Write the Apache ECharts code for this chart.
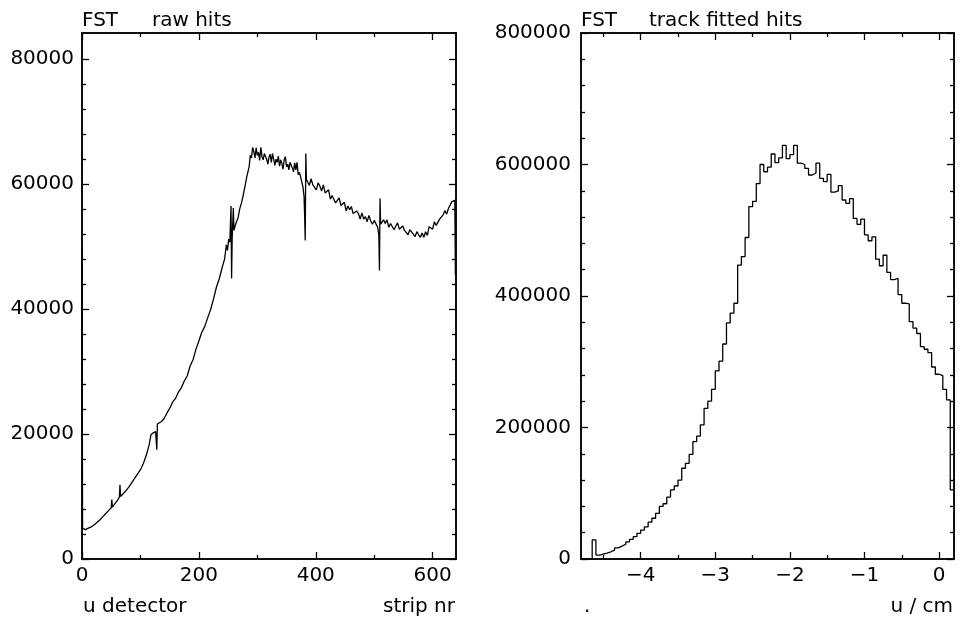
<!DOCTYPE html>
<html>
<head>
<meta charset="utf-8">
<script src="https://cdn.jsdelivr.net/npm/echarts@6/dist/echarts.min.js"></script>
<style>
html,body{margin:0;padding:0;background:#fff}
#main{width:959px;height:621px}
</style>
</head>
<body>
<div id="main"></div>
<script>
// FST raw hits per strip (u detector)
var rawStrips = [0,1,3,6,10,15,20,25,30,35,40,45,50,51,52,55,60,64,65,66,70,75,80,85,90,95,100,105,110,115,118,122,126,127,128,129,132,136,140,145,150,155,160,165,170,175,180,185,190,195,200,205,210,215,220,225,230,235,240,244,247,249,251,253,255,256,257,259,260,262,264,267,270,273,276,279,282,284,
  286,288,290,292,294,296,298,300,302,304,306,308,310,312,314,316,318,320,322,324,326,328,330,332,334,336,338,340,342,344,346,348,350,352,354,356,358,360,362,364,366,368,370,372,374,376,378,380,381,382,383,384,
  386,389,392,395,398,401,404,407,410,413,416,419,422,425,428,431,434,437,440,443,446,449,452,455,458,461,464,467,470,473,476,479,482,485,488,491,494,497,500,503,506,508,509,510,511,
  513,516,519,522,525,528,531,534,537,540,543,546,549,552,555,558,561,564,567,570,573,576,579,582,585,588,591,594,597,600,603,606,609,612,615,618,621,624,627,630,633,636,638,639];
var rawHits = [49500,4900,4700,4700,4900,5100,5400,5800,6200,6700,7200,7700,8200,9500,8300,8700,9300,9900,11900,10000,10400,10900,11500,12200,12900,13600,14300,15300,16600,18300,19900,20200,20400,20300,17500,21600,21900,22000,22400,23300,24100,25100,25700,26700,27400,28500,29300,30900,31900,33600,34900,36300,37200,38600,39900,41600,43500,44900,46700,48000,50300,49400,51200,50700,56500,44900,51400,56200,52600,53300,53900,54600,56100,57000,58300,59700,61200,62000,
  62800,64600,64200,65900,65200,64200,65800,64600,65100,63800,65900,64400,63900,64900,65100,64000,63200,64300,64800,63500,64900,64000,63000,64000,63500,64500,62900,63900,63300,62400,63900,64400,62800,63200,62300,63500,63200,62600,62000,63400,62300,63500,61500,61900,61200,61400,59600,58000,55000,51000,64900,60800,
  60700,59800,60900,59900,60100,59100,60200,59700,58900,59900,58600,58600,59100,57600,58200,58200,57000,57100,57800,56600,56900,57100,55700,56500,55900,56400,55300,55300,55700,55300,54400,55400,54400,54800,54000,55000,54100,53600,54200,54300,53100,51800,46200,57700,53600,
  53600,54300,53700,54300,53100,53700,53800,52700,53300,53800,52800,52500,53300,52600,52900,51900,52700,53000,52000,51600,52400,51900,51500,52200,51500,52400,51800,53200,53100,52800,54000,53400,53200,54400,54200,55100,55800,55200,56100,56000,57200,56900,57400,45500];

// FST track fitted hits, bins of 0.05 cm from -4.8 cm
var trackBinStart = -4.8;
var trackBinWidth = 0.05;
var trackHits = [0,0,0,29000,6000,7600,9000,11000,13500,17000,19500,22500,26000,30000,34000,39000,44000,49000,56000,62000,
  69500,80000,84000,94000,105000,111000,120000,138000,145500,159000,178500,187000,204000,229000,240000,258000,286000,301000,327000,359000,
  374000,389000,447000,460000,489000,536000,544000,571000,600000,589000,596000,616000,603000,610000,629000,609000,615000,629000,602000,600000,
  594000,584000,587000,602000,579000,574000,585000,558000,560000,568000,546000,541000,548000,518000,509000,517000,493000,484000,490000,456000,
  446000,462000,436000,425000,427000,402000,389000,388000,361000,351000,343000,323000,319000,314000,292000,281000,279000,258000,242000,105000];

var rawXLabels = [0,200,400,600];
var rawXMinor = [100,300,500];
var rawYLabels = [0,20000,40000,60000,80000];
var rawYMinor = [4000,8000,12000,16000,24000,28000,32000,36000,44000,48000,52000,56000,64000,68000,72000,76000];
var trackXLabels = [-4,-3,-2,-1,0];
var trackXMinor = [-4.5,-3.5,-2.5,-1.5,-0.5];
var trackYLabels = [0,200000,400000,600000,800000];
var trackYMinor = [40000,80000,120000,160000,240000,280000,320000,360000,440000,480000,520000,560000,640000,680000,720000,760000];

var FONT = 'DejaVu Sans';

function plainLabel(v) {
  return v < 0 ? '\u2212' + String(-v) : String(v);
}

function frameAxis(grid, pos, min, max, ticks, len, labels, margin) {
  return {
    type: 'value', gridIndex: grid, position: pos, min: min, max: max,
    axisLine: {show: true, onZero: false, lineStyle: {color: '#000', width: 1.5}},
    axisTick: {show: true, inside: true, length: len, customValues: ticks, lineStyle: {color: '#000', width: 1.3}},
    axisLabel: labels ? {show: true, customValues: labels, formatter: plainLabel, color: '#000', fontFamily: FONT, fontSize: 20, margin: margin} : {show: false},
    splitLine: {show: false}
  };
}

var rawData = rawStrips.map(function (s, i) { return [s, rawHits[i]]; });
var trackData = trackHits.map(function (v, i) { return [trackBinStart + i * trackBinWidth, v]; });
trackData.push([trackBinStart + trackHits.length * trackBinWidth, trackHits[trackHits.length - 1]]);

var myChart = echarts.init(document.getElementById('main'), null, {renderer: 'canvas'});
var option = {
  animation: false,
  backgroundColor: '#fff',
  grid: [
    {left: 82, top: 33, width: 374, height: 526},
    {left: 581, top: 33, width: 373, height: 526}
  ],
  xAxis: [
    frameAxis(0, 'bottom', 0, 640, rawXLabels, 7, rawXLabels, 7),
    frameAxis(0, 'bottom', 0, 640, rawXMinor, 4),
    frameAxis(0, 'top', 0, 640, rawXLabels, 7),
    frameAxis(0, 'top', 0, 640, rawXMinor, 4),
    frameAxis(1, 'bottom', -4.8, 0.2, trackXLabels, 7, trackXLabels, 7),
    frameAxis(1, 'bottom', -4.8, 0.2, trackXMinor, 4),
    frameAxis(1, 'top', -4.8, 0.2, trackXLabels, 7),
    frameAxis(1, 'top', -4.8, 0.2, trackXMinor, 4)
  ],
  yAxis: [
    frameAxis(0, 'left', 0, 84200, rawYLabels, 7, rawYLabels, 8),
    frameAxis(0, 'left', 0, 84200, rawYMinor, 4),
    frameAxis(0, 'right', 0, 84200, rawYLabels, 7),
    frameAxis(0, 'right', 0, 84200, rawYMinor, 4),
    frameAxis(1, 'left', 0, 800000, trackYLabels, 7, trackYLabels, 10),
    frameAxis(1, 'left', 0, 800000, trackYMinor, 4),
    frameAxis(1, 'right', 0, 800000, trackYLabels, 7),
    frameAxis(1, 'right', 0, 800000, trackYMinor, 4)
  ],
  graphic: [
    {type: 'text', x: 82, y: 21, style: {text: 'FST', font: '20px "DejaVu Sans"', fill: '#000', verticalAlign: 'middle'}},
    {type: 'text', x: 152, y: 21, style: {text: 'raw hits', font: '20px "DejaVu Sans"', fill: '#000', verticalAlign: 'middle'}},
    {type: 'text', x: 581, y: 21, style: {text: 'FST', font: '20px "DejaVu Sans"', fill: '#000', verticalAlign: 'middle'}},
    {type: 'text', x: 649, y: 21, style: {text: 'track fitted hits', font: '20px "DejaVu Sans"', fill: '#000', verticalAlign: 'middle'}},
    {type: 'text', x: 83, y: 607, style: {text: 'u detector', font: '20px "DejaVu Sans"', fill: '#000', verticalAlign: 'middle'}},
    {type: 'text', x: 455, y: 607, style: {text: 'strip nr', font: '20px "DejaVu Sans"', fill: '#000', verticalAlign: 'middle', align: 'right'}},
    {type: 'text', x: 584, y: 607, style: {text: '.', font: '20px "DejaVu Sans"', fill: '#000', verticalAlign: 'middle'}},
    {type: 'text', x: 953, y: 607, style: {text: 'u / cm', font: '20px "DejaVu Sans"', fill: '#000', verticalAlign: 'middle', align: 'right'}}
  ],
  series: [
    {
      name: 'raw hits', type: 'line', xAxisIndex: 0, yAxisIndex: 0,
      data: rawData, showSymbol: false, symbol: 'none',
      lineStyle: {color: '#000', width: 1.3}
    },
    {
      name: 'track fitted hits', type: 'line', xAxisIndex: 4, yAxisIndex: 4,
      data: trackData, step: 'end', showSymbol: false, symbol: 'none',
      lineStyle: {color: '#000', width: 1.3}
    }
  ]
};
myChart.setOption(option);
</script>
</body>
</html>
